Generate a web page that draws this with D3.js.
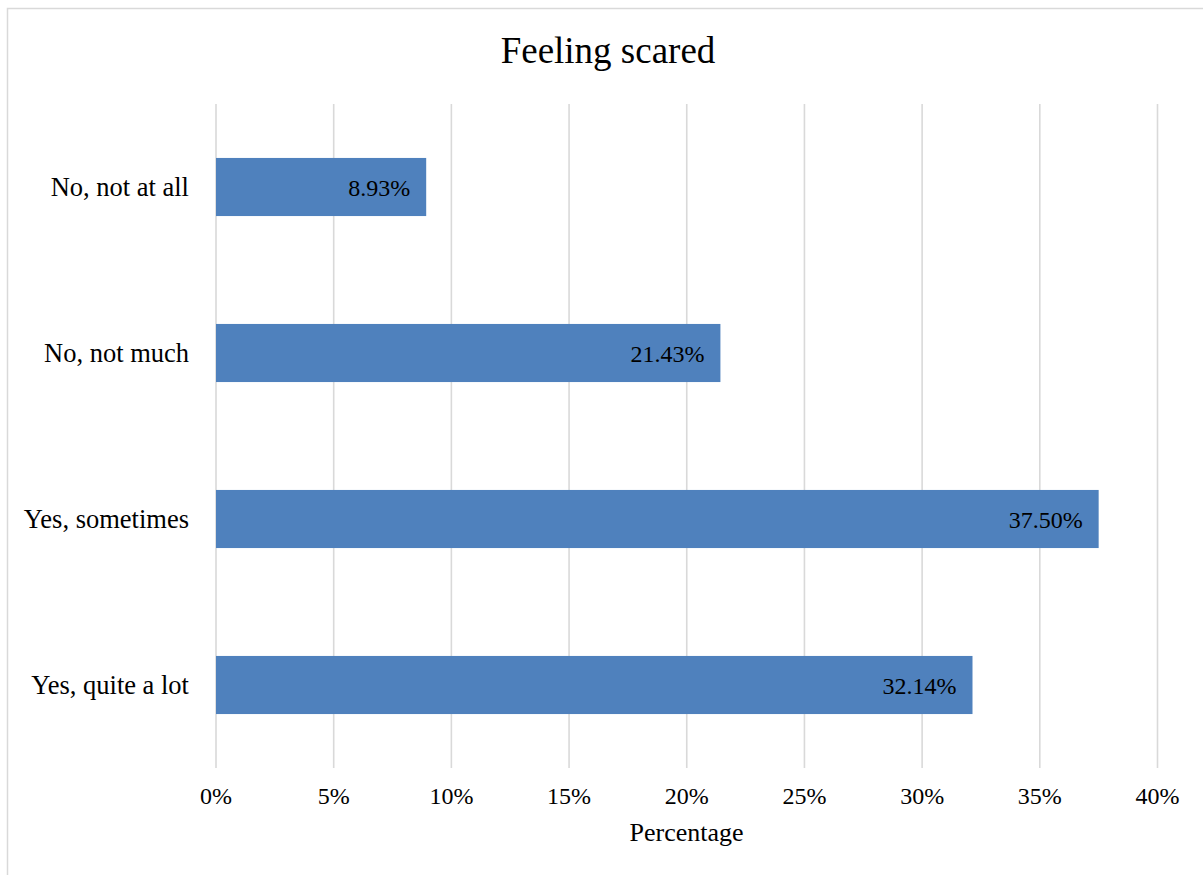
<!DOCTYPE html>
<html>
<head>
<meta charset="utf-8">
<script src="https://cdn.jsdelivr.net/npm/d3@7"></script>
<style>
  html, body { margin: 0; padding: 0; background: #fff; }
  svg { display: block; font-family: "Liberation Serif", "Times New Roman", serif; }
</style>
</head>
<body>
<svg id="chart" width="1203" height="875"></svg>
<script>
// Survey responses to "Feeling scared"
const categories = ["No, not at all", "No, not much", "Yes, sometimes", "Yes, quite a lot"];
const percentages = [8.93, 21.43, 37.50, 32.14];
const tickValues = [0, 5, 10, 15, 20, 25, 30, 35, 40];

const svg = d3.select("#chart");
const plot = { left: 216, right: 1157.5, top: 104, bottom: 768 };

// outer chart frame
svg.append("rect")
  .attr("x", 7.5).attr("y", 8.5)
  .attr("width", 1200).attr("height", 880)
  .attr("fill", "#fff")
  .attr("stroke", "#d9d9d9").attr("stroke-width", 1.5);

const x = d3.scaleLinear().domain([0, 40]).range([plot.left, plot.right]);
const y = d3.scaleBand().domain(categories)
  .range([plot.top, plot.bottom])
  .paddingInner(0.65).paddingOuter(0.325);

// vertical gridlines
svg.append("g")
  .selectAll("line")
  .data(tickValues)
  .join("line")
  .attr("x1", d => x(d)).attr("x2", d => x(d))
  .attr("y1", plot.top).attr("y2", plot.bottom)
  .attr("stroke", "#d9d9d9").attr("stroke-width", 1.6);

// bars
svg.append("g")
  .selectAll("rect")
  .data(categories)
  .join("rect")
  .attr("x", x(0))
  .attr("y", d => y(d))
  .attr("width", (d, i) => x(percentages[i]) - x(0))
  .attr("height", y.bandwidth())
  .attr("fill", "#4f81bd");

// value labels inside bar ends
svg.append("g")
  .selectAll("text")
  .data(categories)
  .join("text")
  .attr("x", (d, i) => x(percentages[i]) - 16)
  .attr("y", d => y(d) + y.bandwidth() / 2 + 9)
  .attr("text-anchor", "end")
  .attr("font-size", 24)
  .attr("fill", "#000")
  .text((d, i) => percentages[i].toFixed(2) + "%");

// category axis labels
svg.append("g")
  .selectAll("text")
  .data(categories)
  .join("text")
  .attr("x", 189)
  .attr("y", d => y(d) + y.bandwidth() / 2 + 8.5)
  .attr("text-anchor", "end")
  .attr("font-size", 26.5)
  .attr("fill", "#000")
  .text(d => d);

// value axis tick labels
svg.append("g")
  .selectAll("text")
  .data(tickValues)
  .join("text")
  .attr("x", d => x(d))
  .attr("y", 804)
  .attr("text-anchor", "middle")
  .attr("font-size", 24)
  .attr("fill", "#000")
  .text(d => d + "%");

// axis title
svg.append("text")
  .attr("x", 686.5)
  .attr("y", 841)
  .attr("text-anchor", "middle")
  .attr("font-size", 26)
  .attr("fill", "#000")
  .text("Percentage");

// chart title
svg.append("text")
  .attr("x", 608)
  .attr("y", 62.5)
  .attr("text-anchor", "middle")
  .attr("font-size", 37)
  .attr("fill", "#000")
  .text("Feeling scared");
</script>
</body>
</html>
